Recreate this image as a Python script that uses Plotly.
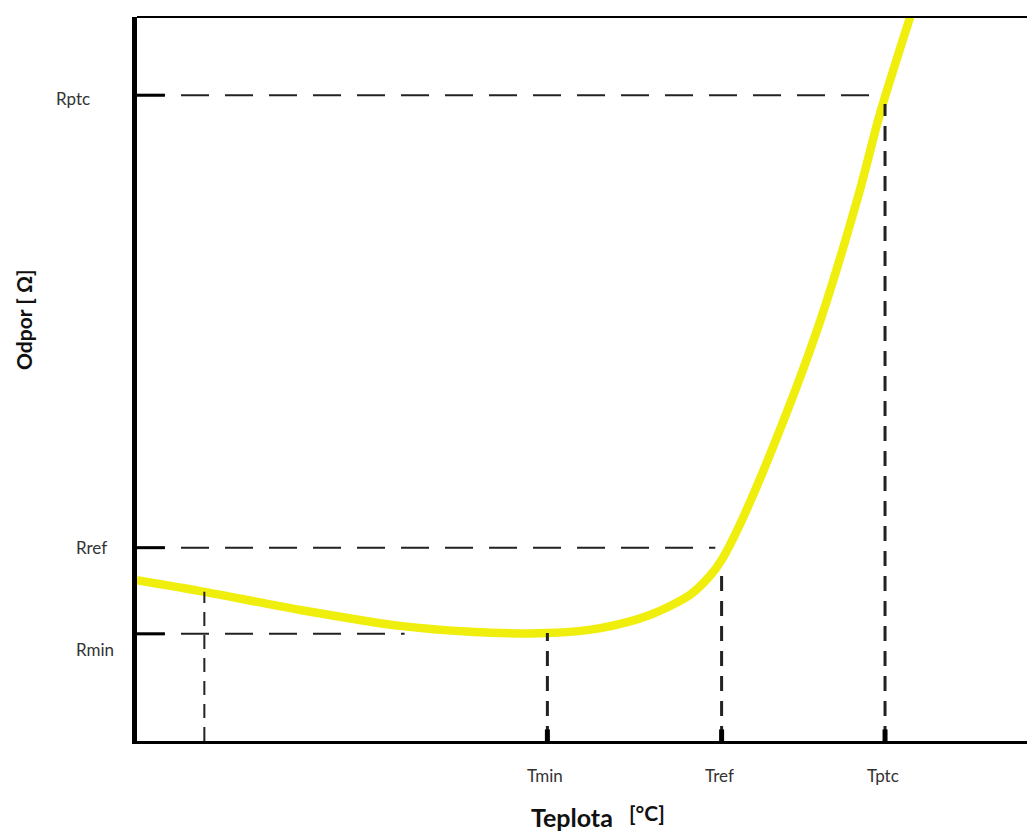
import plotly.graph_objects as go

# Curve data (arbitrary units)
temp = [0, 7.5, 18.2, 29.3, 37.1, 45.7, 51.6, 57.1, 61.6, 63.8, 65.1, 67.1, 71.6, 76.1, 80.5, 82.7, 86.1]
resist = [22.2, 20.6, 18.1, 15.9, 15.1, 14.9, 15.6, 17.4, 20.2, 22.8, 25.0, 29.8, 43.0, 58.1, 76.1, 86.5, 100.0]

x_ticks = ["Tmin", "Tref", "Tptc"]
x_vals = [45.7, 65.1, 83.3]
y_ticks = ["Rptc", "Rref", "Rmin"]
y_vals = [89.2, 26.7, 14.8]
# ends of horizontal guides, tops of vertical guides
h_end = [82.7, 64.4, 29.8]
v_top = [14.9, 24.0, 88.0]
t0, t0_top = 7.5, 20.6

PLOT_W = 906  # pixels of plot area (axis runs to the right edge)
X_RANGE = [0, 100 * PLOT_W / 898]
Y_RANGE = [0, 100]

fig = go.Figure()
fig.add_trace(go.Scatter(x=temp, y=resist, mode="lines",
                         line=dict(color="#efee0c", width=8.5, shape="spline", smoothing=0.8),
                         hoverinfo="skip", showlegend=False))

shapes = []
dark = "#222222"
for yv, xe in zip(y_vals, h_end):
    shapes.append(dict(type="line", xref="x", yref="y", x0=0, x1=xe, y0=yv, y1=yv,
                       line=dict(color=dark, width=2, dash="28px,16px")))
    shapes.append(dict(type="line", xref="x", yref="y", x0=0, x1=3.1, y0=yv, y1=yv,
                       line=dict(color="black", width=3)))
for xv, yt in zip(x_vals, v_top):
    shapes.append(dict(type="line", xref="x", yref="y", x0=xv, x1=xv, y0=0, y1=yt,
                       line=dict(color=dark, width=3, dash="15px,10px")))
    shapes.append(dict(type="line", xref="x", yref="y", x0=xv, x1=xv, y0=0, y1=1.6,
                       line=dict(color="black", width=5)))
shapes.append(dict(type="line", xref="x", yref="y", x0=t0, x1=t0, y0=0, y1=t0_top,
                   line=dict(color=dark, width=2, dash="14px,9px")))
# top frame line
shapes.append(dict(type="line", xref="paper", yref="paper", x0=0, x1=1, y0=1, y1=1,
                   line=dict(color="black", width=2)))

FONT = "Lato, Open Sans, Liberation Sans, sans-serif"
annotations = []
lab_font = dict(family=FONT, size=17, color="#333333")
y_off = {"Rptc": (-64, -3), "Rref": (-46, 0), "Rmin": (-42, -16)}
for lab, yv in zip(y_ticks, y_vals):
    dx, dy = y_off[lab]
    annotations.append(dict(text=lab, x=0, y=yv, xref="x", yref="y", showarrow=False,
                            xanchor="center", yanchor="middle",
                            xshift=dx, yshift=dy, font=lab_font))
for lab, xv in zip(x_ticks, x_vals):
    annotations.append(dict(text=lab, x=xv, y=0, xref="x", yref="y", showarrow=False,
                            xanchor="center", yanchor="middle",
                            yshift=-34, xshift=-2, font=lab_font))

annotations.append(dict(text="<b>Teplota</b>", xref="paper", yref="paper",
                        x=(572 - 137) / PLOT_W, y=-(817 - 741) / 724,
                        xanchor="center", yanchor="middle",
                        showarrow=False, font=dict(family=FONT, size=25, color="#111111")))
annotations.append(dict(text="<b>[°C]</b>", xref="paper", yref="paper",
                        x=(647 - 137) / PLOT_W, y=-(812 - 741) / 724,
                        xanchor="center", yanchor="middle",
                        showarrow=False, font=dict(family=FONT, size=21, color="#111111")))
annotations.append(dict(text="<b>Odpor [ Ω]</b>", xref="paper", yref="paper",
                        x=-(137 - 24) / PLOT_W, y=(741 - 320) / 724,
                        xanchor="center", yanchor="middle",
                        showarrow=False, textangle=-90, font=dict(family=FONT, size=21, color="#111111")))

fig.update_layout(
    width=1035, height=831,
    margin=dict(l=129, r=0, t=9, b=98),
    paper_bgcolor="white", plot_bgcolor="white",
    xaxis=dict(range=X_RANGE, showgrid=False, zeroline=False, showticklabels=False, ticks="",
               showline=True, linecolor="black", linewidth=3, fixedrange=True),
    yaxis=dict(range=Y_RANGE, showgrid=False, zeroline=False, showticklabels=False, ticks="",
               showline=True, linecolor="black", linewidth=5, fixedrange=True),
    shapes=shapes, annotations=annotations,
)

fig.write_html("out.html")
